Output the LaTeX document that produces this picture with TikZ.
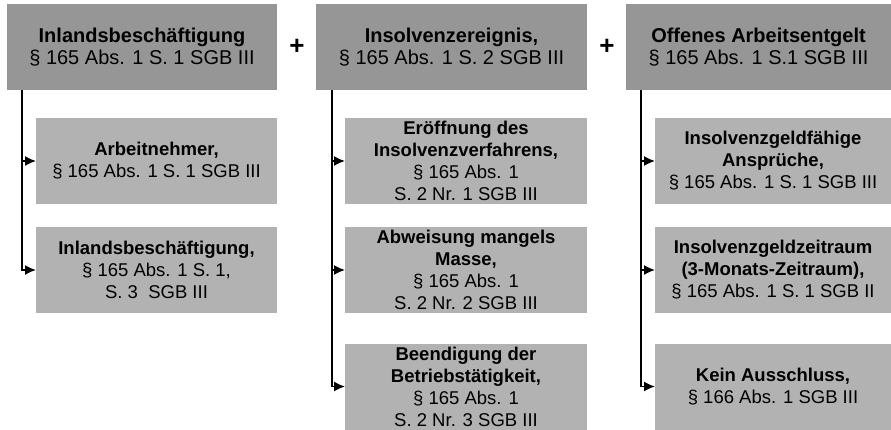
\documentclass[tikz,border=0pt]{standalone}
\usepackage{fontspec}
\setmainfont{Liberation Sans}
\usetikzlibrary{arrows.meta}
\definecolor{topgray}{RGB}{150,150,150}
\definecolor{subgray}{RGB}{178,178,178}

\begin{document}
\begin{tikzpicture} [x=1pt,y=-1pt,line width=1.6pt,
			every node/.style={inner sep=0pt,outer sep=0pt,align=center},
			main box/.style={fill=topgray,minimum width=#1,minimum height=86pt,
				font=\fontsize{20}{22}\selectfont},
			sub box/.style={fill=subgray,minimum width=#1,minimum height=86pt,
				font=\fontsize{18.5}{22}\selectfont},
			plus/.style={font=\fontsize{26}{26}\selectfont\bfseries},
			link/.style={-{Latex[length=11pt,width=10pt]}}]

		\useasboundingbox (0,0) rectangle (891,430);

		\node [main box=270] (ib) at (142,47) {\textbf{Inlandsbeschäftigung}\\§ 165 Abs. 1 S. 1 SGB III};
		\node [main box=271] (ie) at (451.5,47) {\textbf{Insolvenzereignis,}\\§ 165 Abs. 1 S. 2 SGB III};
		\node [main box=265] (oa) at (758.5,47) {\textbf{Offenes Arbeitsentgelt}\\§ 165 Abs. 1 S.1 SGB III};

		\node [plus] (p1) at (297,47) {+};
		\node [plus] (p2) at (607,47) {+};

		\node [sub box=241] (ib1) at (156.5,161) {\textbf{Arbeitnehmer,}\\§ 165 Abs. 1 S. 1 SGB III};
		\node [sub box=241] (ib2) at (156.5,270) {\textbf{Inlandsbeschäftigung,}\\§ 165 Abs. 1 S. 1,\\S. 3\ \ SGB III};

		\node [sub box=242] (ie1) at (466,161) {\textbf{Eröffnung des}\\\textbf{Insolvenzverfahrens,}\\§ 165 Abs. 1\\S. 2 Nr. 1 SGB III};
		\node [sub box=242] (ie2) at (466,270) {\textbf{Abweisung mangels}\\\textbf{Masse,}\\§ 165 Abs. 1\\S. 2 Nr. 2 SGB III};
		\node [sub box=242] (ie3) at (466,386.5) {\textbf{Beendigung der}\\\textbf{Betriebstätigkeit,}\\§ 165 Abs. 1\\S. 2 Nr. 3 SGB III};

		\node [sub box=236] (oa1) at (773,161) {\textbf{Insolvenzgeldfähige}\\\textbf{Ansprüche,}\\§ 165 Abs. 1 S. 1 SGB III};
		\node [sub box=236] (oa2) at (773,270) {\textbf{Insolvenzgeldzeitraum}\\\textbf{(3-Monats-Zeitraum),}\\§ 165 Abs. 1 S. 1 SGB II};
		\node [sub box=236] (oa3) at (773,386.5) {\textbf{Kein Ausschluss,}\\§ 166 Abs. 1 SGB III};

		\coordinate (sib) at ([xshift=15pt]ib.south west);
		\coordinate (sie) at ([xshift=16pt]ie.south west);
		\coordinate (soa) at ([xshift=15pt]oa.south west);

		\draw [link] (sib) |- (ib1.west);
		\draw [link] (sib) |- (ib2.west);
		\draw [link] (sie) |- (ie1.west);
		\draw [link] (sie) |- (ie2.west);
		\draw [link] (sie) |- (ie3.west);
		\draw [link] (soa) |- (oa1.west);
		\draw [link] (soa) |- (oa2.west);
		\draw [link] (soa) |- (oa3.west);

		\end{tikzpicture}
\end{document}
